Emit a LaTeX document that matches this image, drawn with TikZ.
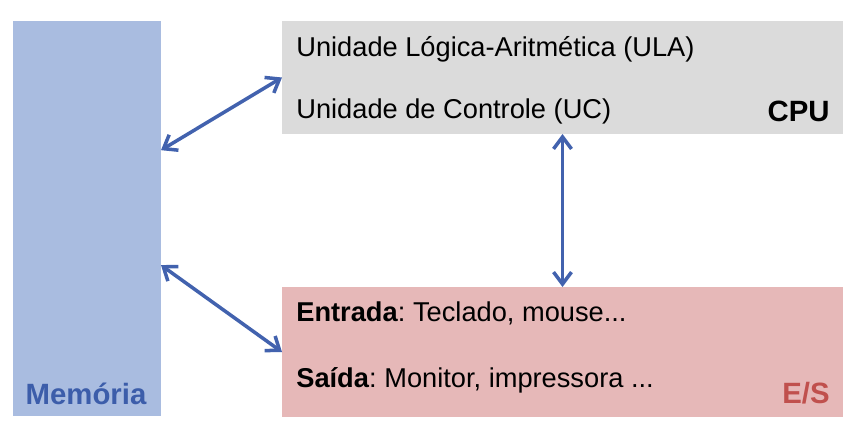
\documentclass[tikz,border=0pt]{standalone}
\usepackage{fontspec}
\setmainfont{Liberation Sans}
\usepackage{tikz}
\usetikzlibrary{arrows.meta,calc}
\frenchspacing

\definecolor{memfill}{HTML}{A9BCE0}
\definecolor{memtext}{HTML}{3C5DAA}
\definecolor{cpufill}{HTML}{DBDBDB}
\definecolor{esfill}{HTML}{E6B8B8}
\definecolor{estext}{HTML}{C0504D}
\definecolor{linkblue}{HTML}{4262AE}

\tikzset{
  block/.style={inner sep=0pt, outer sep=0pt, anchor=south west},
  item/.style={anchor=base west, inner sep=0pt, font=\fontsize{15.5}{18}\selectfont},
  tag/.style={inner sep=0pt, font=\fontsize{16.7}{19}\selectfont\bfseries},
  link/.style={line width=2pt, linkblue,
    {Straight Barb[length=2.4mm,width=3.6mm]}-{Straight Barb[length=2.4mm,width=3.6mm]}}
}

\begin{document}
\begin{tikzpicture}[line cap=round]
  \useasboundingbox (0,0) rectangle (17.18,8.88);
  % ===== blocks =====
  \node[block, fill=memfill, minimum width=2.96cm, minimum height=7.90cm] (mem) at (0.26,0.56) {};
  \node[block, fill=cpufill, minimum width=11.22cm, minimum height=2.26cm] (cpu) at (5.64,6.20) {};
  \node[block, fill=esfill, minimum width=11.22cm, minimum height=2.60cm] (es) at (5.64,0.54) {};
  % ===== texts =====
  \node[tag, memtext, anchor=base] (memlabel) at (1.72,0.80) {Memória};
  \node[item] (ula) at (5.92,7.76) {Unidade Lógica-Aritmética (ULA)};
  \node[item] (uc) at (5.92,6.52) {Unidade de Controle (UC)};
  \node[tag, anchor=base east] (cpulabel) at (16.60,6.46) {CPU};
  \node[item] (entrada) at (5.92,2.46) {\textbf{Entrada}: Teclado, mouse...};
  \node[item] (saida) at (5.92,1.14) {\textbf{Saída}: Monitor, impressora ...};
  \node[tag, estext, anchor=base east] (eslabel) at (16.60,0.82) {E/S};
  % ===== links =====
  \draw[link] ($(mem.south east)!0.673!(mem.north east)$) -- (cpu.west);
  \draw[link] ($(mem.south east)!0.382!(mem.north east)$) -- (es.west);
  \draw[link] (cpu.south) -- (es.north);
\end{tikzpicture}
\end{document}
